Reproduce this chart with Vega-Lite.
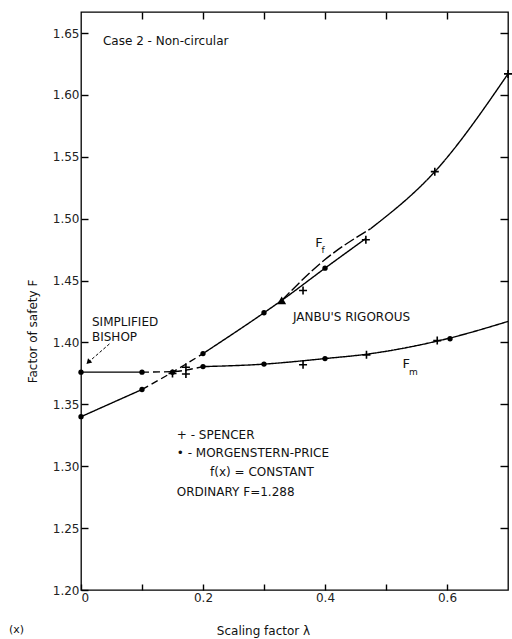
{
  "$schema": "https://vega.github.io/schema/vega-lite/v6.json",
  "width": 427,
  "height": 578,
  "autosize": {"type": "none"},
  "padding": {"left": 81, "top": 12, "right": 4, "bottom": 49},
  "background": "white",
  "config": {
    "view": {"stroke": "black", "strokeWidth": 1.3},
    "font": "DejaVu Sans",
    "axis": {"grid": false, "domain": false, "tickColor": "black", "tickWidth": 1.4, "labelColor": "#222", "labelFont": "DejaVu Sans", "titleFont": "DejaVu Sans", "titleColor": "#111", "titleFontWeight": "normal"}
  },
  "datasets": {
    "curves": [
      {"seg": "Fm1", "style": "solid", "lam": 0, "F": 1.376},
      {"seg": "Fm1", "style": "solid", "lam": 0.1, "F": 1.376},
      {"seg": "Fm2", "style": "dashed", "lam": 0.1, "F": 1.376},
      {"seg": "Fm2", "style": "dashed", "lam": 0.15, "F": 1.3765},
      {"seg": "Fm2", "style": "dashed", "lam": 0.2, "F": 1.3805},
      {"seg": "Fm3", "style": "solid", "lam": 0.2, "F": 1.3805},
      {"seg": "Fm3", "style": "solid", "lam": 0.3, "F": 1.3825},
      {"seg": "Fm3", "style": "solid", "lam": 0.4, "F": 1.387},
      {"seg": "Fm3", "style": "solid", "lam": 0.468, "F": 1.3905},
      {"seg": "Fm3", "style": "solid", "lam": 0.6, "F": 1.403},
      {"seg": "Fm3", "style": "solid", "lam": 0.7, "F": 1.417},
      {"seg": "Ff1", "style": "solid", "lam": 0, "F": 1.34},
      {"seg": "Ff1", "style": "solid", "lam": 0.1, "F": 1.362},
      {"seg": "Ff2", "style": "dashed", "lam": 0.1, "F": 1.362},
      {"seg": "Ff2", "style": "dashed", "lam": 0.15, "F": 1.376},
      {"seg": "Ff2", "style": "dashed", "lam": 0.2, "F": 1.391},
      {"seg": "Ff3", "style": "solid", "lam": 0.2, "F": 1.391},
      {"seg": "Ff3", "style": "solid", "lam": 0.3, "F": 1.424},
      {"seg": "Ff3", "style": "solid", "lam": 0.329, "F": 1.434},
      {"seg": "Ff3", "style": "solid", "lam": 0.4, "F": 1.46},
      {"seg": "Ff3", "style": "solid", "lam": 0.467, "F": 1.484},
      {"seg": "J", "style": "long", "lam": 0.329, "F": 1.434},
      {"seg": "J", "style": "long", "lam": 0.4, "F": 1.467},
      {"seg": "J", "style": "long", "lam": 0.475, "F": 1.492},
      {"seg": "Ff4", "style": "solid", "lam": 0.475, "F": 1.492},
      {"seg": "Ff4", "style": "solid", "lam": 0.58, "F": 1.538},
      {"seg": "Ff4", "style": "solid", "lam": 0.7, "F": 1.617}
    ],
    "spencer": [
      {"lam": 0.15, "F": 1.375},
      {"lam": 0.172, "F": 1.38},
      {"lam": 0.172, "F": 1.3745},
      {"lam": 0.364, "F": 1.442},
      {"lam": 0.467, "F": 1.483},
      {"lam": 0.58, "F": 1.538},
      {"lam": 0.7, "F": 1.617},
      {"lam": 0.364, "F": 1.382},
      {"lam": 0.468, "F": 1.39},
      {"lam": 0.584, "F": 1.4015}
    ],
    "mp": [
      {"lam": 0, "F": 1.376},
      {"lam": 0, "F": 1.34},
      {"lam": 0.1, "F": 1.376},
      {"lam": 0.1, "F": 1.362},
      {"lam": 0.15, "F": 1.376},
      {"lam": 0.2, "F": 1.391},
      {"lam": 0.2, "F": 1.3805},
      {"lam": 0.3, "F": 1.424},
      {"lam": 0.3, "F": 1.3825},
      {"lam": 0.4, "F": 1.46},
      {"lam": 0.4, "F": 1.387},
      {"lam": 0.605, "F": 1.403}
    ],
    "janbu": [{"lam": 0.329, "F": 1.434}],
    "arrow": [
      {"lam": 0.047, "F": 1.399},
      {"lam": 0.012, "F": 1.384}
    ],
    "arrowhead": [{"lam": 0.012, "F": 1.384}],
    "notes": [
      {"lam": 0.036, "F": 1.6436, "text": "Case 2 - Non-circular"},
      {"lam": 0.018, "F": 1.4165, "text": "SIMPLIFIED"},
      {"lam": 0.018, "F": 1.4044, "text": "BISHOP"},
      {"lam": 0.3475, "F": 1.4206, "text": "JANBU'S RIGOROUS"},
      {"lam": 0.157, "F": 1.3252, "text": "+ - SPENCER"},
      {"lam": 0.157, "F": 1.3107, "text": "• - MORGENSTERN-PRICE"},
      {"lam": 0.2115, "F": 1.2953, "text": "f(x) = CONSTANT"},
      {"lam": 0.157, "F": 1.2792, "text": "ORDINARY F=1.288"}
    ],
    "edge": [
      {"lam": -0.118, "F": 1.1675, "text": "(x)"}
    ],
    "fletters": [
      {"lam": 0.390, "F": 1.4804, "text": "F"},
      {"lam": 0.533, "F": 1.3826, "text": "F"}
    ],
    "fsubs": [
      {"lam": 0.3967, "F": 1.4748, "text": "f"},
      {"lam": 0.545, "F": 1.3762, "text": "m"}
    ]
  },
  "encoding": {
    "x": {
      "field": "lam", "type": "quantitative",
      "scale": {"domain": [0, 0.7], "nice": false, "zero": false},
      "axis": null
    },
    "y": {
      "field": "F", "type": "quantitative",
      "scale": {"domain": [1.2, 1.667], "nice": false, "zero": false},
      "axis": null
    }
  },
  "layer": [
    {
      "data": {"values": [{"lam": 0, "F": 1.2}]},
      "mark": {"type": "point", "opacity": 0},
      "encoding": {
        "x": {
          "field": "lam", "type": "quantitative",
          "axis": {
            "orient": "bottom",
            "values": [0, 0.1, 0.2, 0.3, 0.4, 0.5, 0.6],
            "labelExpr": "round(datum.value*10) % 2 == 0 ? format(datum.value, '~g') : ''",
            "tickSize": -6,
            "labelPadding": 8,
            "labelFontSize": 12,
            "title": "Scaling factor λ",
            "titleFontSize": 12,
            "titleX": 182,
            "titleY": 40,
            "titleAlign": "center",
            "titleBaseline": "middle"
          }
        },
        "y": {
          "field": "F", "type": "quantitative",
          "axis": {
            "orient": "left",
            "values": [1.2, 1.25, 1.3, 1.35, 1.4, 1.45, 1.5, 1.55, 1.6, 1.65],
            "format": ".2f",
            "tickSize": -7,
            "labelPadding": 9,
            "labelFontSize": 12,
            "title": "Factor of safety F",
            "titleFontSize": 12,
            "titleX": -49,
            "titleY": 319,
            "titleAlign": "center",
            "titleBaseline": "middle"
          }
        }
      }
    },
    {
      "data": {"values": [{"lam": 0, "F": 1.2}]},
      "mark": {"type": "point", "opacity": 0},
      "encoding": {
        "x": {
          "field": "lam", "type": "quantitative",
          "axis": {
            "orient": "top",
            "values": [0.1, 0.2, 0.3, 0.4, 0.5, 0.6],
            "tickSize": -7,
            "labels": false,
            "title": null
          }
        },
        "y": {
          "field": "F", "type": "quantitative",
          "axis": {
            "orient": "right",
            "values": [1.25, 1.3, 1.35, 1.4, 1.45, 1.5, 1.55, 1.6, 1.65],
            "tickSize": -8,
            "labels": false,
            "title": null
          }
        }
      }
    },
    {
      "data": {"name": "curves"},
      "mark": {"type": "line", "color": "black", "strokeWidth": 1.4, "interpolate": "monotone"},
      "encoding": {
        "detail": {"field": "seg", "type": "nominal"},
        "strokeDash": {"field": "style", "type": "nominal", "scale": {"domain": ["solid", "dashed", "long"], "range": [[1, 0], [7, 4], [11, 3]]}, "legend": null}
      }
    },
    {
      "data": {"name": "arrow"},
      "mark": {"type": "line", "color": "black", "strokeWidth": 1, "strokeDash": [3, 2]},
      "encoding": {}
    },
    {
      "data": {"name": "arrowhead"},
      "mark": {"type": "point", "shape": "triangle-up", "filled": true, "color": "black", "size": 35, "angle": 225, "opacity": 1},
      "encoding": {}
    },
    {
      "data": {"name": "spencer"},
      "mark": {"type": "point", "shape": "M-1,0H1M0,-1V1", "filled": false, "color": "black", "strokeWidth": 1.6, "size": 64, "opacity": 1},
      "encoding": {}
    },
    {
      "data": {"name": "mp"},
      "mark": {"type": "point", "shape": "circle", "filled": true, "color": "black", "size": 28, "opacity": 1},
      "encoding": {}
    },
    {
      "data": {"name": "janbu"},
      "mark": {"type": "point", "shape": "triangle-up", "filled": true, "color": "black", "size": 80, "opacity": 1},
      "encoding": {}
    },
    {
      "data": {"name": "notes"},
      "mark": {"type": "text", "align": "left", "baseline": "middle", "fontSize": 12, "color": "#111"},
      "encoding": {"text": {"field": "text", "type": "nominal"}}
    },
    {
      "data": {"name": "edge"},
      "mark": {"type": "text", "align": "left", "baseline": "middle", "fontSize": 11, "color": "#111"},
      "encoding": {"text": {"field": "text", "type": "nominal"}}
    },
    {
      "data": {"name": "fletters"},
      "mark": {"type": "text", "align": "center", "baseline": "middle", "fontSize": 13, "color": "#111"},
      "encoding": {"text": {"field": "text", "type": "nominal"}}
    },
    {
      "data": {"name": "fsubs"},
      "mark": {"type": "text", "align": "center", "baseline": "middle", "fontSize": 9, "color": "#111"},
      "encoding": {"text": {"field": "text", "type": "nominal"}}
    }
  ],
  "resolve": {"axis": {"x": "independent", "y": "independent"}}
}
